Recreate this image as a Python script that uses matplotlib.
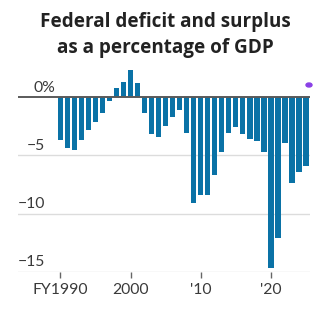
import numpy as np
import matplotlib
matplotlib.use("Agg")
import matplotlib.pyplot as plt
from matplotlib.patches import Ellipse

# data (FY, % of GDP)
years = list(range(1990, 2026))
deficit = [-3.7, -4.4, -4.5, -3.7, -2.8, -2.1, -1.4, -0.3, 0.8, 1.3,
           2.3, 1.2, -1.4, -3.2, -3.4, -2.5, -1.7, -1.1, -3.1, -9.1,
           -8.4, -8.4, -6.7, -4.7, -3.1, -2.6, -3.2, -3.6, -3.8, -4.7,
           -14.7, -12.1, -3.9, -7.4, -6.4, -5.9]
xticks = [1990, 2000, 2010, 2020]
xtick_labels = ["FY1990", "2000", "'10", "'20"]
yticks = [0, -5, -10, -15]
ytick_labels = ["0%", "\u22125", "\u221210", "\u221215"]

W = H = 329
dpi = 100
plt.rcParams["font.family"] = ["Lato", "DejaVu Sans"]

fig = plt.figure(figsize=(W / dpi, H / dpi), dpi=dpi)
# axes placed in pixels: x 18..310, y(-15)=271.7 .. top 59.9
l, r, b, t = 18, 310, 271.7, 59.9
ax = fig.add_axes([l / W, (H - b) / H, (r - l) / W, (b - t) / H])
ax.set_xlim(1983.97, 2025.57)
ax.set_ylim(-15, 3.2)

ax.bar(years, deficit, width=0.76, color="#0a72a6", zorder=2)

for v in yticks[1:]:
  ax.axhline(v, color="#dcdcdc", lw=1.0, zorder=1)
ax.axhline(0, color="#5a5a5a", lw=1.4, zorder=3)

for s in ax.spines.values():
  s.set_visible(False)
ax.set_yticks([])
ax.set_xticks(xticks, xtick_labels)
ax.tick_params(axis="x", length=4, width=1, color="#666666", pad=4,
               labelsize=11.3, labelcolor="#3a3a3a")

ytf = ax.get_yaxis_transform()
for v, lab in zip(yticks, ytick_labels):
  xr = (55 - l) / (r - l) if lab.endswith("%") else (45 - l) / (r - l)
  ax.annotate(lab, xy=(xr, v), xycoords=ytf, xytext=(0, 1.8),
              textcoords="offset points", ha="right", va="bottom",
              fontsize=11.3, color="#3a3a3a")

tfont = dict(ha="center", va="baseline", fontsize=13.6, fontweight="bold",
             color="#222222", family=["Open Sans", "DejaVu Sans"])
fig.text(165 / W, 1 - 27 / H, "Federal deficit and surplus", **tfont)
fig.text(165 / W, 1 - 53 / H, "as a percentage of GDP", **tfont)

# small purple dot at top right of the reference
fig.patches.append(Ellipse((309 / W, 1 - 85 / H), 6 / W, 4 / H,
                           transform=fig.transFigure, color="#8a40e6"))

fig.savefig("out.png", dpi=dpi)
